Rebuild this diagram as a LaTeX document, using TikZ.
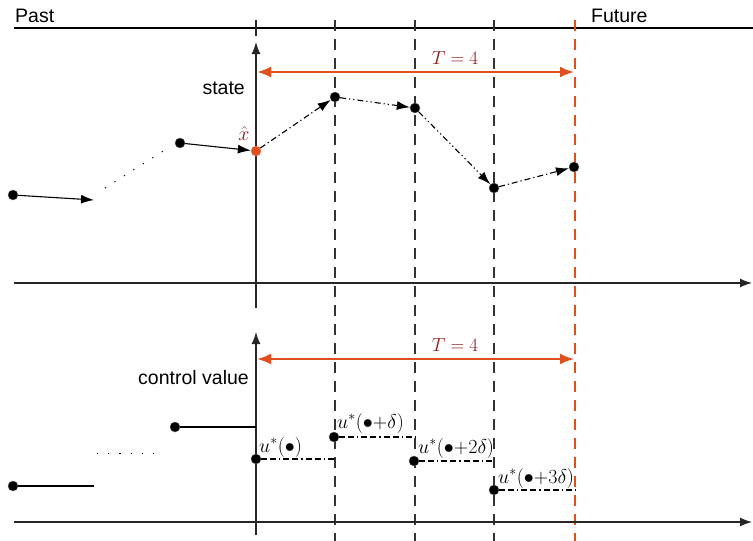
\RequirePackage{fix-cm}
\documentclass[tikz,border=0pt]{standalone}
\usepackage[no-math]{fontspec}
\setmainfont{Liberation Sans}
\usetikzlibrary{arrows.meta}
\definecolor{orng}{HTML}{E0501E}
\definecolor{dred}{HTML}{8E1A1A}
\tikzset{
  every node/.style={font=\fontsize{19.5}{22}\selectfont},
  mth/.style={font=\fontsize{20}{22}\selectfont},
  tmth/.style={font=\fontsize{19}{21}\selectfont},
  dot/.style={circle,fill=black,draw=black!60,line width=0.4pt,inner sep=0pt,minimum size=10pt},
  odot/.style={dot,fill=orng,draw=orng!70},
  axis/.style={line width=1.3pt,draw=black!85,-{Latex[length=12pt,width=9pt]}},
  vdash/.style={line width=1.2pt,draw=black!80,dash pattern=on 11pt off 8pt},
  odash/.style={line width=2pt,draw=orng,dash pattern=on 11pt off 8pt},
  span/.style={line width=2.2pt,draw=orng,{Latex[length=14pt,width=11pt]}-{Latex[length=14pt,width=11pt]}},
  pathA/.style={line width=1.1pt,-{Latex[length=13pt,width=9pt]}},
  dda/.style={line width=1.1pt,dash pattern=on 6pt off 3pt on 1.2pt off 3pt,-{Latex[length=13pt,width=9pt]}},
  ddb/.style={line width=1.1pt,dash pattern=on 6pt off 3pt on 1.2pt off 3pt on 1.2pt off 3pt,-{Latex[length=13pt,width=9pt]}},
  hdash/.style={line width=1.1pt,dash pattern=on 6pt off 3pt on 6pt off 3pt on 1.2pt off 3pt},
  dotted line/.style={line width=1pt,dash pattern=on 1.2pt off 10pt},
  lbl/.style={inner sep=0pt},
}
\begin{document}
\begin{tikzpicture}[x=1pt,y=-1pt]
\useasboundingbox (0,0) rectangle (753,541);
% top timeline
\coordinate (tl0) at (14,28); \coordinate (tl3) at (753,28);
\draw[line width=1.2pt] (tl0) -- (tl3);
\node[lbl,anchor=base west] (past) at (15,22) {Past};
\node[lbl,anchor=base west] (future) at (591,22) {Future};
% vertical dashed lines
\coordinate (v1t) at (335,20); \coordinate (v1b) at (335,541);
\coordinate (v2t) at (415,20); \coordinate (v2b) at (415,541);
\coordinate (v3t) at (494,20); \coordinate (v3b) at (494,541);
\coordinate (v4t) at (575,20); \coordinate (v4b) at (575,541);
\draw[vdash] (v1t) -- (v1b);
\draw[vdash] (v2t) -- (v2b);
\draw[vdash] (v3t) -- (v3b);
\draw[odash] (v4t) -- (v4b);
% tick at the axis on top line
\coordinate (tk0) at (256,20); \coordinate (tk1) at (256,36);
\draw[line width=1.3pt,black!85] (tk0) -- (tk1);
% upper axes
\coordinate (ua0) at (256,308); \coordinate (ua1) at (256,42);
\draw[axis] (ua0) -- (ua1);
\coordinate (uh0) at (14,283); \coordinate (uh1) at (752,283);
\draw[axis] (uh0) -- (uh1);
\node[lbl,anchor=base east] (state) at (245,94) {state};
% lower axes
\coordinate (la0) at (256,535); \coordinate (la1) at (256,332);
\draw[axis] (la0) -- (la1);
\coordinate (lh0) at (14,522); \coordinate (lh1) at (752,522);
\draw[axis] (lh0) -- (lh1);
\node[lbl,anchor=base east] (cv) at (249,384) {control value};
% horizon arrows
\coordinate (s1a) at (257,72); \coordinate (s1b) at (574,72);
\draw[span] (s1a) -- (s1b);
\node[lbl,tmth,anchor=base,text=dred] (T1) at (455,64) {$T=4$};
\coordinate (s2a) at (257,359); \coordinate (s2b) at (574,359);
\draw[span] (s2a) -- (s2b);
\node[lbl,tmth,anchor=base,text=dred] (T2) at (455,351) {$T=4$};
% state trajectory
\node[dot] (p1) at (13,195) {};
\coordinate (a1) at (94,200);
\draw[pathA] (p1) -- (a1);
\coordinate (d0) at (105,188); \coordinate (d1) at (168,148);
\draw[dotted line] (d0) -- (d1);
\node[dot] (p2) at (180,143) {};
\node[odot] (xh) at (256,151) {};
\draw[pathA] (p2) -- (xh);
\node[lbl,mth,anchor=base,text=dred] (xhl) at (244,140) {$\hat{x}$};
\node[dot] (p3) at (335,97) {};
\node[dot] (p4) at (415,108) {};
\node[dot] (p5) at (494,188) {};
\node[dot] (p6) at (574,167) {};
\draw[dda] (xh) -- (p3);
\draw[ddb] (p3) -- (p4);
\draw[ddb] (p4) -- (p5);
\draw[dda] (p5) -- (p6);
% control trajectory
\node[dot] (c1) at (13,486) {};
\coordinate (c1e) at (94,486);
\draw[line width=1.1pt] (c1) -- (c1e);
\coordinate (e0) at (97,453); \coordinate (e1) at (155,453);
\draw[dotted line] (e0) -- (e1);
\node[dot] (c2) at (175,427) {};
\coordinate (c2e) at (256,427);
\draw[line width=1.1pt] (c2) -- (c2e);
\node[dot] (u0) at (256,459) {};
\coordinate (u0e) at (335,459);
\draw[hdash] (u0) -- (u0e);
\node[lbl,mth,anchor=base west] (u0l) at (259,452) {$u^*(\bullet)$};
\node[dot] (u1) at (334,437) {};
\coordinate (u1e) at (415,437);
\draw[hdash] (u1) -- (u1e);
\node[lbl,mth,anchor=base west] (u1l) at (337,428) {$u^*(\bullet{+}\delta)$};
\node[dot] (u2) at (414,461) {};
\coordinate (u2e) at (494,461);
\draw[hdash] (u2) -- (u2e);
\node[lbl,mth,anchor=base west] (u2l) at (418,453) {$u^*(\bullet{+}2\delta)$};
\node[dot] (u3) at (494,490) {};
\coordinate (u3e) at (575,490);
\draw[hdash] (u3) -- (u3e);
\node[lbl,mth,anchor=base west] (u3l) at (498,483) {$u^*(\bullet{+}3\delta)$};
\end{tikzpicture}
\end{document}
